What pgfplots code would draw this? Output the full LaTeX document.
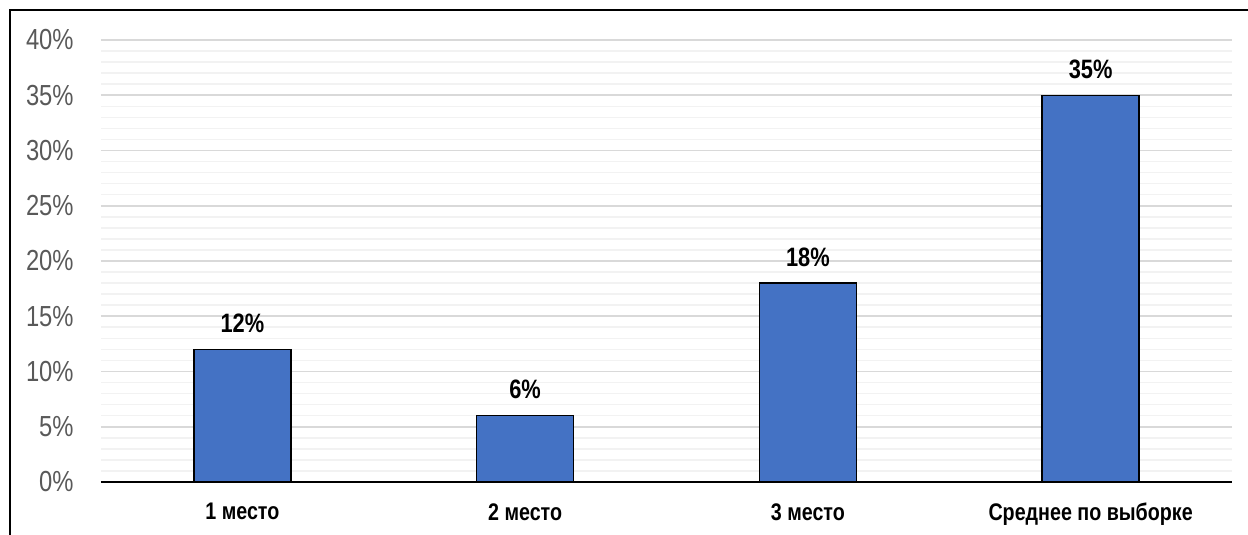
\documentclass[border=0pt]{standalone}
\usepackage{fontspec}
\setmainfont[FakeStretch=0.82]{Liberation Sans}
\usepackage{pgfplots}
\pgfplotsset{compat=1.18}
\definecolor{barblue}{HTML}{4472C4}
\definecolor{ticklab}{HTML}{595959}
\begin{document}
\begin{tikzpicture}
\begin{axis}[
  at={(50.5pt,26.5pt)}, anchor=south west,
  scale only axis, width=565.5pt, height=221pt,
  xmin=-0.5, xmax=3.5, ymin=0, ymax=40,
  axis x line*=bottom, axis y line*=left,
  y axis line style={draw=none},
  x axis line style={-, black, line width=1pt},
  ytick={0,5,...,40}, minor y tick num=4,
  ymajorgrids, yminorgrids,
  major grid style={draw={rgb,255:red,217;green,217;blue,217}, line width=0.8pt},
  minor grid style={draw={rgb,255:red,242;green,242;blue,242}, line width=0.8pt},
  major tick length=0pt, minor tick length=0pt,
  tick style={draw=none},
  /pgf/number format/assume math mode=true,
  yticklabel={\pgfmathprintnumber{\tick}\%},
  yticklabel style={anchor=east, inner sep=0pt, xshift=-13.5pt, text=ticklab, font=\fontsize{14.5}{17}\selectfont},
  xtick={0,1,2,3},
  xticklabels={1 место, 2 место, 3 место, Среднее по выборке},
  xticklabel style={anchor=north, inner sep=0pt, yshift=-10.5pt, font=\bfseries\fontsize{12}{14}\selectfont},
  ybar, bar width=48.5pt,
  nodes near coords={\pgfmathprintnumber{\pgfplotspointmeta}\%},
  nodes near coords style={anchor=south, inner sep=0pt, yshift=8pt, font=\bfseries\fontsize{13.3}{15}\selectfont, text=black},
]
\addplot[fill=barblue, draw=black, line width=0.7pt] coordinates {(0,12) (1,6) (2,18) (3,35)};
\end{axis}
\pgfresetboundingbox
\useasboundingbox (0,0) rectangle (624pt,267.5pt);
\draw[line width=1.3pt] (5pt,0) -- (5pt,262.5pt) -- (624pt,262.5pt);
\end{tikzpicture}
\end{document}
